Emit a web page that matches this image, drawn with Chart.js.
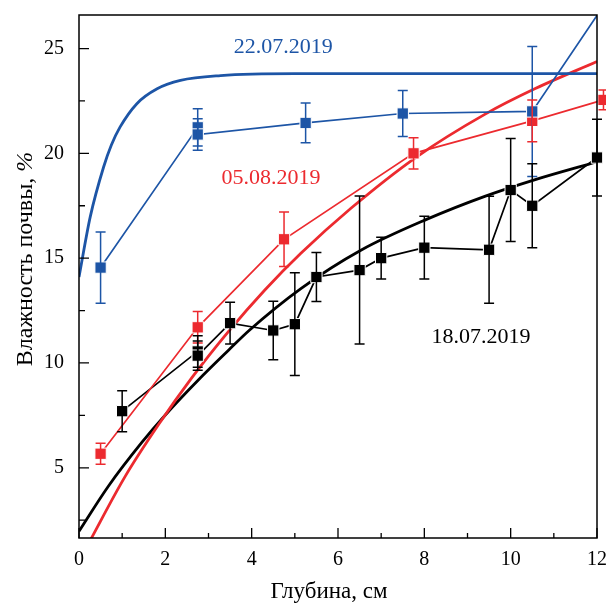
<!DOCTYPE html>
<html>
<head>
<meta charset="utf-8">
<script src="https://cdn.jsdelivr.net/npm/chart.js@4"></script>
<style>
  html, body { margin: 0; padding: 0; background: #fff; }
</style>
</head>
<body>
<canvas id="chart" width="606" height="603"></canvas>
<script>
// 22.07.2019 - measured points, error bars and fitted curve
const depth22 = [0.5, 2.75, 2.75, 5.25, 7.5, 10.5, 12.4];
const moist22 = [14.55, 21.24, 20.9, 21.45, 21.9, 22.0, 27.8];
const err22 = [1.7, 0.89, 0.75, 0.95, 1.1, 3.1, null];
const fitDepth22 = [0, 0.26, 0.57, 0.75, 0.95, 1.34, 1.81, 2.35, 3.28, 5, 8, 12];
const fitMoist22 = [14.1, 16.97, 19.35, 20.4, 21.25, 22.37, 23.08, 23.48, 23.71, 23.8, 23.8, 23.8];

// 05.08.2019
const depth05 = [0.5, 2.75, 4.75, 7.75, 10.5, 12.15];
const moist05 = [5.67, 11.7, 15.9, 20.0, 21.55, 22.55];
const err05 = [0.5, 0.75, 1.3, 0.75, 1.0, 0.47];
const fitDepth05 = [0.2, 1.07, 1.84, 2.62, 3.47, 4.3, 5.14, 6.3, 7.8, 9.4, 10.57, 12];
const fitMoist05 = [1.31, 4.59, 7.05, 9.31, 11.52, 13.47, 15.23, 17.38, 19.8, 21.86, 23.09, 24.38];

// 18.07.2019
const depth18 = [1.0, 2.75, 2.75, 3.5, 4.5, 5.0, 5.5, 6.5, 7.0, 8.0, 9.5, 10.0, 10.5, 12.0];
const moist18 = [7.7, 10.55, 10.35, 11.9, 11.55, 11.85, 14.1, 14.43, 15.0, 15.5, 15.4, 18.25, 17.5, 19.8];
const err18 = [0.98, 0.75, 0.7, 1.0, 1.4, 2.45, 1.17, 3.53, 1.0, 1.5, 2.55, 2.46, 2.0, 1.83];
const fitDepth18 = [0, 0.68, 1.46, 2.0, 2.77, 3.47, 3.94, 5.14, 6.53, 8.05, 9.4, 10.57, 12];
const fitMoist18 = [1.97, 4.12, 6.22, 7.52, 9.2, 10.62, 11.55, 13.55, 15.38, 16.85, 17.95, 18.75, 19.6];

const xTicks = [0, 2, 4, 6, 8, 10, 12];
const yTicks = [5, 10, 15, 20, 25];

const BLUE = '#1d55a6';
const RED = '#ec2a2f';
const BLACK = '#000000';
const FONT = '"Liberation Serif", "Times New Roman", serif';

function pts(xs, ys) {
  return xs.map((x, i) => ({ x: x, y: ys[i] }));
}

function fitSet(xs, ys, color) {
  return {
    data: pts(xs, ys),
    showLine: true,
    borderColor: color,
    borderWidth: 2.8,
    pointRadius: 0,
    cubicInterpolationMode: 'monotone',
    order: 2
  };
}

function dataSet(xs, ys, errs, color, clip) {
  return {
    data: pts(xs, ys),
    errors: errs,
    showLine: true,
    borderColor: color,
    backgroundColor: color,
    borderWidth: 1.7,
    pointStyle: 'rect',
    pointRadius: 8,
    pointBackgroundColor: color,
    pointBorderColor: '#ffffff',
    pointBorderWidth: 1,
    tension: 0,
    clip: clip,
    order: 1
  };
}

// error bars with caps, drawn through the chart scales
const errorBars = {
  id: 'errorBars',
  afterDatasetsDraw(chart) {
    const ctx = chart.ctx;
    const xs = chart.scales.x, ys = chart.scales.y;
    chart.data.datasets.forEach((ds) => {
      if (!ds.errors) return;
      ctx.save();
      ctx.strokeStyle = ds.borderColor;
      ctx.lineWidth = 1.5;
      ds.data.forEach((p, i) => {
        const e = ds.errors[i];
        if (e == null) return;
        const px = xs.getPixelForValue(p.x);
        const top = ys.getPixelForValue(p.y + e);
        const bot = ys.getPixelForValue(p.y - e);
        ctx.beginPath();
        ctx.moveTo(px, top); ctx.lineTo(px, bot);
        ctx.moveTo(px - 5, top); ctx.lineTo(px + 5, top);
        ctx.moveTo(px - 5, bot); ctx.lineTo(px + 5, bot);
        ctx.stroke();
      });
      ctx.restore();
    });
  }
};

// frame, inward ticks, axis titles and series labels
const annotations = [
  { text: '22.07.2019', x: 4.73, y: 25.05, color: BLUE },
  { text: '05.08.2019', x: 4.45, y: 18.8, color: RED },
  { text: '18.07.2019', x: 9.31, y: 11.25, color: BLACK }
];

const decorations = {
  id: 'decorations',
  afterDraw(chart) {
    const ctx = chart.ctx;
    const a = chart.chartArea;
    const xs = chart.scales.x, ys = chart.scales.y;
    ctx.save();
    ctx.strokeStyle = '#000';
    ctx.lineWidth = 1.5;
    ctx.strokeRect(a.left, a.top, a.right - a.left, a.bottom - a.top);

    ctx.lineWidth = 1.3;
    ctx.beginPath();
    for (let v = 0; v <= 12; v++) {
      const px = xs.getPixelForValue(v);
      const len = v % 2 === 0 ? 10 : 5;
      ctx.moveTo(px, a.bottom); ctx.lineTo(px, a.bottom - len);
    }
    for (let v = 2.5; v <= 25; v += 2.5) {
      const py = ys.getPixelForValue(v);
      const len = v % 5 === 0 ? 10 : 6;
      ctx.moveTo(a.left, py); ctx.lineTo(a.left + len, py);
    }
    ctx.stroke();

    ctx.fillStyle = '#000';
    ctx.textBaseline = 'alphabetic';
    ctx.textAlign = 'center';
    ctx.font = '23px ' + FONT;
    ctx.fillText('Глубина, см', 329, 598);

    // y title, with the % sign in italics
    const part1 = 'Влажность почвы, ';
    const part2 = '%';
    ctx.font = '24px ' + FONT;
    const w1 = ctx.measureText(part1).width;
    ctx.font = 'italic 24px ' + FONT;
    const w2 = ctx.measureText(part2).width;
    ctx.translate(32, 259);
    ctx.rotate(-Math.PI / 2);
    ctx.textAlign = 'left';
    ctx.font = '24px ' + FONT;
    ctx.fillText(part1, -(w1 + w2) / 2, 0);
    ctx.font = 'italic 24px ' + FONT;
    ctx.fillText(part2, -(w1 + w2) / 2 + w1, 0);
    ctx.restore();

    ctx.save();
    ctx.font = '22px ' + FONT;
    ctx.textAlign = 'center';
    ctx.textBaseline = 'middle';
    annotations.forEach((t) => {
      ctx.fillStyle = t.color;
      ctx.fillText(t.text, xs.getPixelForValue(t.x), ys.getPixelForValue(t.y));
    });
    ctx.restore();
  }
};

new Chart(document.getElementById('chart'), {
  type: 'scatter',
  data: {
    datasets: [
      dataSet(depth22, moist22, err22, BLUE, undefined),
      dataSet(depth05, moist05, err05, RED, false),
      dataSet(depth18, moist18, err18, BLACK, false),
      fitSet(fitDepth22, fitMoist22, BLUE),
      fitSet(fitDepth05, fitMoist05, RED),
      fitSet(fitDepth18, fitMoist18, BLACK)
    ]
  },
  options: {
    responsive: false,
    animation: false,
    layout: { padding: { top: 15, right: 9, left: 0, bottom: 0 } },
    plugins: { legend: { display: false }, tooltip: { enabled: false } },
    scales: {
      x: {
        type: 'linear',
        min: 0,
        max: 12,
        afterFit(s) { s.height = 65; s.paddingLeft = 0; s.paddingRight = 0; },
        afterBuildTicks(s) { s.ticks = xTicks.map(v => ({ value: v })); },
        grid: { display: false, drawTicks: false },
        border: { display: false },
        ticks: { padding: 10, color: '#000', font: { family: FONT, size: 20 } }
      },
      y: {
        type: 'linear',
        min: 1.65,
        max: 26.6,
        afterFit(s) { s.width = 79; s.paddingTop = 0; s.paddingBottom = 0; },
        afterBuildTicks(s) { s.ticks = yTicks.map(v => ({ value: v })); },
        grid: { display: false, drawTicks: false },
        border: { display: false },
        ticks: { padding: 15, color: '#000', font: { family: FONT, size: 20 } }
      }
    }
  },
  plugins: [errorBars, decorations]
});
</script>
</body>
</html>
